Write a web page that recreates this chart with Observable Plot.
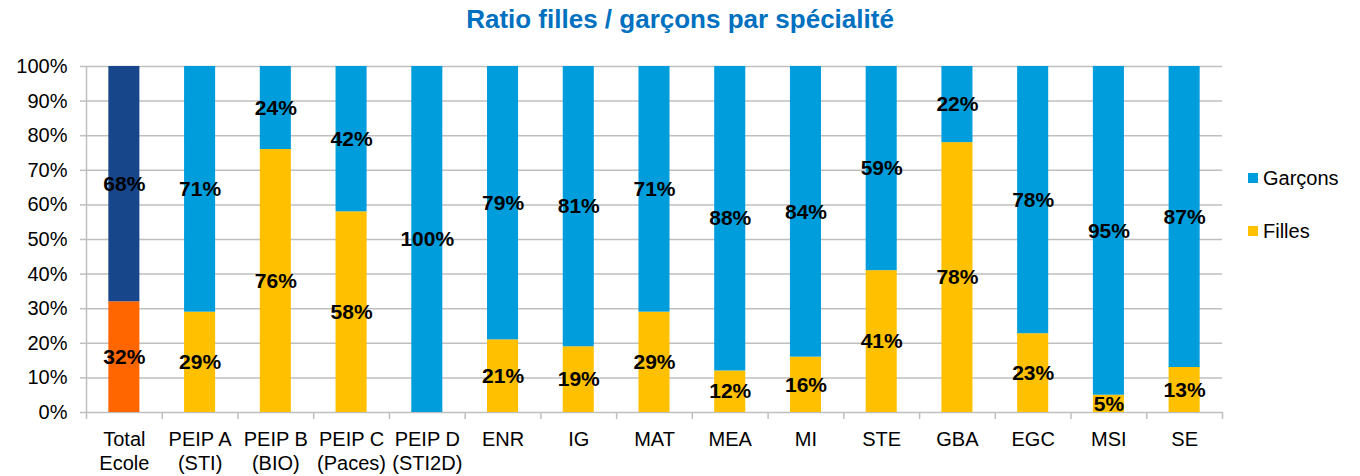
<!DOCTYPE html>
<html>
<head>
<meta charset="utf-8">
<script src="https://cdn.jsdelivr.net/npm/d3@7"></script>
<script src="https://cdn.jsdelivr.net/npm/@observablehq/plot@0.6"></script>
<style>
  body { margin: 0; background: #fff; font-family: "Liberation Sans", Arial, sans-serif; }
  #wrap { position: relative; width: 1360px; height: 476px; }
  #title { position: absolute; left: 0; top: 0; width: 1360px; height: 40px; line-height: 38px; text-align: center;
           font-weight: bold; font-size: 26px; color: #0070C0; }
  #chart { position: absolute; left: 0; top: 40px; }
  #legend { position: absolute; left: 1248px; top: 165px; font-size: 20px; color: #000; }
  .li { display: flex; align-items: center; height: 26px; margin-bottom: 27px; }
  .sw { width: 10px; height: 10px; margin-right: 5px; }
</style>
</head>
<body>
<div id="wrap">
  <div id="title">Ratio filles / garçons par spécialité</div>
  <div id="chart"></div>
  <div id="legend"></div>
</div>
<script>
const categories = ["Total\nEcole", "PEIP A\n(STI)", "PEIP B\n(BIO)", "PEIP C\n(Paces)", "PEIP D\n(STI2D)",
  "ENR", "IG", "MAT", "MEA", "MI", "STE", "GBA", "EGC", "MSI", "SE"];
const filles  = [32, 29, 76, 58, 0, 21, 19, 29, 12, 16, 41, 78, 23, 5, 13];
const garcons = [68, 71, 24, 42, 100, 79, 81, 71, 88, 84, 59, 22, 78, 95, 87];
const series = ["Filles", "Garçons"];
const yTicks = [0, 0.1, 0.2, 0.3, 0.4, 0.5, 0.6, 0.7, 0.8, 0.9, 1];

const colors = {
  total: { "Filles": "#FF6600", "Garçons": "#17468A" },
  other: { "Filles": "#FFC000", "Garçons": "#009DDC" }
};

const rows = [];
series.forEach(s => {
  const vals = s === "Filles" ? filles : garcons;
  categories.forEach((c, i) => rows.push({ cat: c, series: s, value: vals[i], total: i === 0 }));
});
const colorOf = d => (d.total ? colors.total : colors.other)[d.series];

const W = 1360, H = 436, ML = 86, MR = 138, MT = 26, MB = 64;
const plotW = W - ML - MR;
const step = plotW / categories.length;
const grid = "#BFBFBF";
const fs = 20;

const chart = Plot.plot({
  width: W, height: H,
  marginLeft: ML, marginRight: MR, marginTop: MT, marginBottom: MB,
  style: { fontFamily: "'Liberation Sans', Arial, sans-serif", fontSize: fs + "px", color: "#000", background: "#fff" },
  x: { domain: categories, paddingInner: 0.59, paddingOuter: 0.295, round: false, axis: null },
  y: { domain: [0, 1], axis: null },
  color: { type: "identity" },
  marks: [
    // gridlines
    Plot.ruleY(yTicks, { y: d => d, stroke: grid, strokeWidth: 1.5 }),
    // stacked bars (normalized to 100%)
    Plot.barY(rows, Plot.stackY({ x: "cat", y: "value", fill: colorOf, order: null, offset: "normalize" })),
    Plot.text(rows, Plot.stackY({ x: "cat", y: "value", offset: "normalize", order: null,
      text: d => d.value > 0 ? d.value + "%" : "", fontWeight: "bold", fontSize: 21, fill: "#000" })),
    // y axis line and short ticks
    Plot.ruleX([categories[0]], { x: d => d, y1: 0, y2: 1, dx: -step / 2, stroke: grid, strokeWidth: 1.5 }),
    Plot.ruleY(yTicks, { y: d => d, insetLeft: -6, insetRight: plotW, stroke: grid, strokeWidth: 1.5 }),
    Plot.text(yTicks, { y: d => d, text: d => Math.round(d * 100) + "%", frameAnchor: "left", textAnchor: "end", dx: -19, fontSize: fs, fill: "#000" }),
    // x axis category boundary ticks
    Plot.ruleX(categories, { x: d => d, y1: 0, y2: 0, dx: -step / 2, insetBottom: -7, stroke: grid, strokeWidth: 1.5 }),
    Plot.ruleX([categories[categories.length - 1]], { x: d => d, y1: 0, y2: 0, dx: step / 2, insetBottom: -7, stroke: grid, strokeWidth: 1.5 }),
    Plot.text(categories, { x: d => d, text: d => d, frameAnchor: "bottom", lineAnchor: "top", dy: 16, lineHeight: 1.2, fontSize: fs, fill: "#000" })
  ]
});
document.getElementById("chart").appendChild(chart);

const legend = document.getElementById("legend");
[["Garçons", colors.other["Garçons"]], ["Filles", colors.other["Filles"]]].forEach(([name, col]) => {
  const d = document.createElement("div");
  d.className = "li";
  d.innerHTML = `<span class="sw" style="background:${col}"></span><span>${name}</span>`;
  legend.appendChild(d);
});
</script>
</body>
</html>
